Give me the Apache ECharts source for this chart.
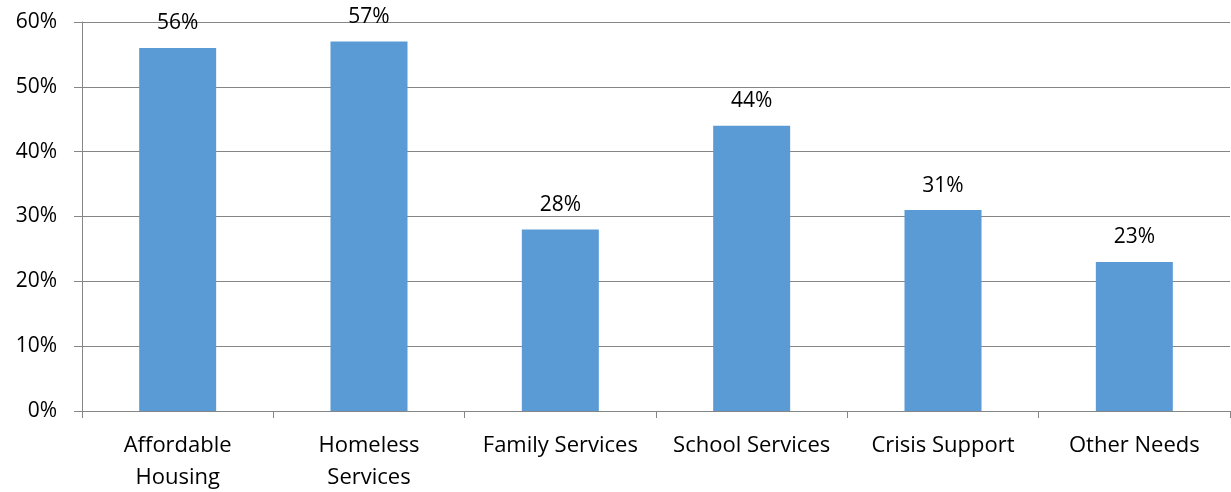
<!DOCTYPE html>
<html>
<head>
<meta charset="utf-8">
<script src="https://cdn.jsdelivr.net/npm/echarts@6/dist/echarts.min.js"></script>
<style>
  html, body { margin: 0; padding: 0; background: #fff; }
  #chart { width: 1231px; height: 492px; }
</style>
</head>
<body>
<div id="chart"></div>
<script>
// Share of respondents naming each need (percent)
const categories = ['Affordable\nHousing', 'Homeless\nServices', 'Family Services', 'School Services', 'Crisis Support', 'Other Needs'];
const values = [56, 57, 28, 44, 31, 23];
const yTicks = [0, 10, 20, 30, 40, 50, 60];

const FONT = '"Open Sans", "Liberation Sans", sans-serif';
const chart = echarts.init(document.getElementById('chart'));

chart.setOption({
  animation: false,
  grid: { left: 82, right: 1, top: 22, bottom: 81, containLabel: false, outerBoundsMode: 'none' },
  xAxis: {
    type: 'category',
    data: categories,
    axisLine: { lineStyle: { color: '#868686', width: 1 } },
    axisTick: { show: true, length: 7, alignWithLabel: false, lineStyle: { color: '#868686' } },
    axisLabel: { color: '#000', fontFamily: FONT, fontSize: 22, lineHeight: 32, margin: 19, interval: 0 }
  },
  yAxis: {
    type: 'value',
    min: yTicks[0],
    max: yTicks[yTicks.length - 1],
    interval: 10,
    axisLine: { show: true, lineStyle: { color: '#868686', width: 1 } },
    axisTick: { show: true, length: 8, inside: false, lineStyle: { color: '#868686' } },
    splitLine: { lineStyle: { color: '#868686', width: 1 } },
    axisLabel: { color: '#000', fontFamily: FONT, fontSize: 21, margin: 25, formatter: v => v + '%' }
  },
  series: [{
    type: 'bar',
    data: values,
    barWidth: 77,
    itemStyle: { color: '#5B9BD5' },
    label: {
      show: true,
      position: 'top',
      distance: 14,
      color: '#000',
      fontFamily: FONT,
      fontSize: 21,
      formatter: p => p.value + '%'
    }
  }]
});
</script>
</body>
</html>
